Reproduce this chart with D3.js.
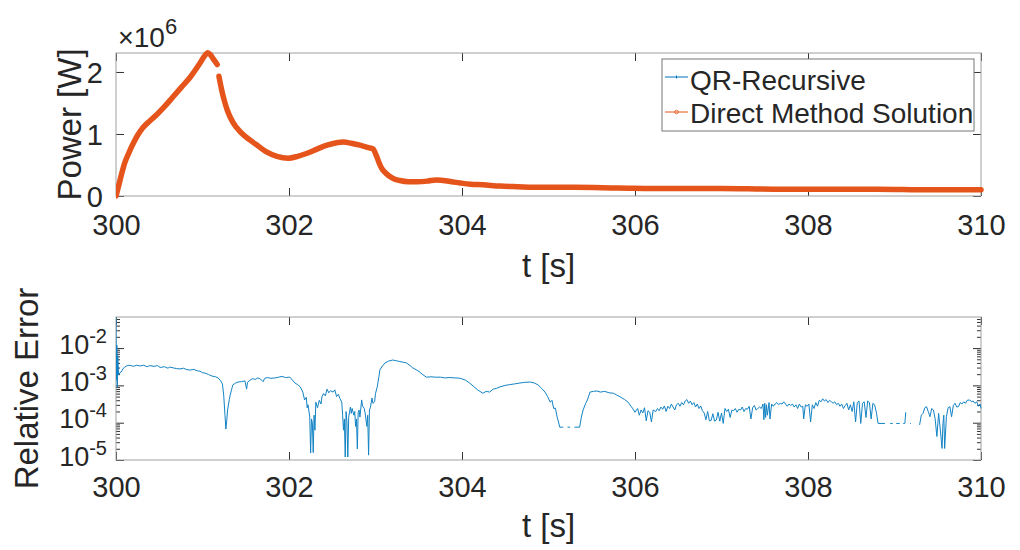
<!DOCTYPE html>
<html>
<head>
<meta charset="utf-8">
<script src="https://cdn.jsdelivr.net/npm/d3@7"></script>
<style>
body { margin: 0; background: #fff; }
svg text { font-family: "Liberation Sans", Arial, Helvetica, sans-serif; fill: #262626; }
</style>
</head>
<body>
<svg id="chart" width="1020" height="550"></svg>
<script>
// tick values and series names
var xTicks = [300, 302, 304, 306, 308, 310];
var powerTicks = [0, 1, 2];
var errTicks = [1e-5, 1e-4, 1e-3, 1e-2];
var seriesNames = ['QR-Recursive', 'Direct Method Solution'];

// power in units of 1e6 W, [t, P]; null = gap in the drawn curve
var powerMW = [
  [300.00,0.00],[300.03,0.16],[300.06,0.33],[300.10,0.53],[300.15,0.70],[300.20,0.85],
  [300.25,0.98],[300.31,1.10],[300.39,1.21],[300.47,1.31],[300.56,1.44],[300.66,1.60],
  [300.76,1.76],[300.86,1.92],[300.97,2.14],[301.03,2.27],[301.06,2.31],[301.09,2.28],
  [301.12,2.22],[301.17,2.12],null,[301.19,1.93],[301.22,1.72],[301.25,1.55],
  [301.29,1.37],[301.35,1.19],[301.44,1.03],[301.55,0.90],[301.65,0.80],[301.74,0.71],
  [301.86,0.64],[301.99,0.61],[302.10,0.64],[302.21,0.69],[302.33,0.76],[302.44,0.82],
  [302.55,0.86],[302.63,0.87],[302.72,0.85],[302.82,0.82],[302.92,0.78],[302.97,0.76],
  [303.01,0.65],[303.04,0.54],[303.07,0.45],[303.11,0.38],[303.15,0.33],[303.21,0.28],
  [303.28,0.25],[303.38,0.23],[303.48,0.23],[303.60,0.24],[303.70,0.26],[303.78,0.25],
  [303.88,0.23],[303.98,0.21],[304.10,0.19],[304.24,0.18],[304.44,0.16],[304.64,0.15],
  [304.90,0.14],[305.30,0.14],[305.80,0.13],[306.40,0.12],[307.00,0.12],[307.60,0.11],
  [308.20,0.11],[308.80,0.11],[309.40,0.10],[310.00,0.10]
];

// relative error as log10 exponent, [t, log10(err)]; null = gap
var errExp = [
  [300.00,-1.17],[300.005,-2.86],[300.01,-1.92],[300.015,-3.05],[300.02,-2.20],[300.03,-2.72],
  [300.045,-2.66],[300.06,-2.64],[300.08,-2.56],[300.10,-2.51],[300.13,-2.47],[300.16,-2.46],
  [300.20,-2.49],[300.24,-2.46],[300.28,-2.48],[300.32,-2.46],[300.36,-2.50],[300.39,-2.47],
  [300.44,-2.49],[300.48,-2.47],[300.51,-2.52],[300.56,-2.50],[300.60,-2.54],[300.62,-2.51],
  [300.66,-2.53],[300.70,-2.55],[300.74,-2.56],[300.78,-2.54],[300.82,-2.58],[300.86,-2.59],
  [300.90,-2.57],[300.94,-2.61],[300.97,-2.62],[301.00,-2.66],[301.03,-2.67],[301.07,-2.71],
  [301.11,-2.75],[301.15,-2.77],[301.18,-2.80],[301.21,-2.88],[301.23,-2.96],[301.245,-3.26],
  [301.26,-3.80],[301.27,-4.17],[301.28,-3.95],[301.29,-3.66],[301.31,-3.38],[301.32,-3.26],
  [301.34,-3.08],[301.35,-2.99],[301.38,-2.94],[301.41,-2.91],[301.45,-2.90],[301.49,-2.88],
  [301.51,-3.10],[301.52,-2.92],[301.55,-2.86],[301.58,-2.82],[301.61,-2.84],[301.64,-2.80],
  [301.67,-2.83],[301.70,-2.90],[301.72,-2.81],[301.75,-2.79],[301.79,-2.81],[301.84,-2.80],
  [301.88,-2.78],[301.92,-2.76],[301.96,-2.79],[302.01,-2.78],[302.04,-2.86],[302.07,-2.94],
  [302.10,-2.98],[302.13,-3.04],[302.16,-3.18],[302.18,-3.39],[302.20,-3.32],[302.21,-3.60],
  [302.22,-3.52],[302.24,-3.85],[302.25,-4.81],[302.26,-3.90],[302.27,-4.00],[302.28,-4.80],
  [302.29,-3.80],[302.30,-4.20],[302.31,-3.45],[302.33,-3.60],[302.35,-3.40],[302.37,-3.50],
  [302.38,-3.31],[302.40,-3.22],[302.42,-3.28],[302.44,-3.10],[302.46,-3.20],[302.48,-3.14],
  [302.51,-3.18],[302.53,-3.12],[302.55,-3.30],[302.57,-3.24],[302.59,-3.36],[302.61,-3.45],
  [302.62,-3.80],[302.63,-4.20],[302.64,-3.90],[302.65,-4.92],[302.66,-3.70],[302.67,-4.00],
  [302.68,-4.92],[302.69,-3.85],[302.71,-3.58],[302.72,-3.75],[302.73,-3.62],[302.75,-3.80],
  [302.76,-3.70],[302.77,-4.10],[302.78,-3.90],[302.79,-4.70],[302.80,-3.72],[302.81,-3.66],
  [302.82,-3.85],[302.84,-3.39],[302.85,-3.55],[302.87,-3.62],[302.88,-3.74],[302.90,-4.10],
  [302.91,-3.80],[302.92,-4.87],[302.93,-3.66],[302.94,-3.60],[302.96,-3.34],[302.97,-3.48],
  [302.99,-3.44],[303.00,-3.22],[303.02,-3.04],[303.04,-2.76],[303.05,-2.59],[303.08,-2.48],
  [303.11,-2.40],[303.15,-2.35],[303.20,-2.32],[303.24,-2.34],[303.28,-2.36],[303.32,-2.38],
  [303.36,-2.40],[303.40,-2.47],[303.43,-2.53],[303.47,-2.58],[303.51,-2.64],[303.55,-2.72],
  [303.59,-2.78],[303.64,-2.77],[303.69,-2.78],[303.75,-2.78],[303.80,-2.80],[303.86,-2.79],
  [303.92,-2.80],[303.98,-2.81],[304.04,-2.86],[304.09,-2.94],[304.14,-3.04],[304.18,-3.12],
  [304.24,-3.21],[304.28,-3.16],[304.32,-3.18],[304.36,-3.10],[304.40,-3.08],[304.44,-3.04],
  [304.50,-3.00],[304.55,-2.98],[304.61,-2.96],[304.66,-2.94],[304.72,-2.92],[304.79,-2.91],
  [304.84,-2.94],[304.88,-2.99],[304.92,-3.08],[304.96,-3.18],[304.99,-3.30],[305.02,-3.45],
  [305.04,-3.40],[305.06,-3.62],[305.08,-3.61],[305.10,-3.85],[305.11,-3.93],[305.13,-4.12],
  [305.17,-4.12],null,[305.22,-4.12],[305.25,-4.12],null,[305.30,-4.12],[305.33,-4.12],
  [305.36,-4.12],[305.38,-3.85],[305.40,-3.66],[305.43,-3.48],[305.45,-3.39],[305.48,-3.18],
  [305.52,-3.16],[305.56,-3.15],[305.60,-3.18],[305.65,-3.16],[305.70,-3.20],[305.75,-3.21],
  [305.79,-3.26],[305.83,-3.31],[305.88,-3.38],[305.92,-3.45],[305.95,-3.55],[305.97,-3.61],
  [306.00,-3.72],[306.03,-3.62],[306.05,-3.80],[306.07,-3.66],[306.09,-3.74],[306.11,-3.60],
  [306.13,-3.95],[306.15,-3.68],[306.17,-3.72],[306.19,-3.98],[306.21,-3.66],[306.24,-3.70],
  [306.26,-3.62],[306.28,-3.68],[306.30,-3.58],[306.32,-3.64],[306.34,-3.55],[306.36,-3.70],
  [306.38,-3.56],[306.40,-3.62],[306.42,-3.50],[306.44,-3.58],[306.46,-3.66],[306.48,-3.52],
  [306.50,-3.48],[306.52,-3.56],[306.54,-3.46],[306.56,-3.52],[306.58,-3.42],[306.60,-3.38],
  [306.62,-3.48],[306.64,-3.42],[306.66,-3.52],[306.68,-3.46],[306.70,-3.58],[306.72,-3.50],
  [306.74,-3.62],[306.76,-3.55],[306.78,-3.68],[306.80,-3.74],[306.82,-3.92],[306.84,-3.70],
  [306.86,-3.95],[306.88,-3.94],[306.90,-3.76],[306.92,-3.96],[306.94,-3.93],[306.96,-3.72],
  [306.98,-3.96],[307.00,-3.74],[307.02,-4.02],[307.04,-3.62],[307.06,-3.70],[307.08,-3.64],
  [307.10,-3.86],[307.12,-3.66],[307.14,-3.68],[307.16,-3.62],[307.18,-3.72],[307.20,-3.64],
  [307.22,-3.66],[307.24,-3.58],[307.26,-3.70],[307.28,-3.62],[307.30,-3.64],[307.32,-3.56],
  [307.34,-3.90],[307.36,-3.60],[307.38,-3.54],[307.40,-3.66],[307.42,-3.62],[307.44,-3.58],
  [307.46,-3.62],[307.48,-3.50],[307.49,-3.92],[307.50,-3.48],[307.51,-3.86],[307.52,-3.52],
  [307.53,-3.80],[307.55,-3.46],[307.56,-3.90],[307.58,-3.50],[307.60,-3.56],[307.62,-3.50],
  [307.64,-3.46],[307.66,-3.52],[307.68,-3.48],[307.70,-3.50],[307.72,-3.44],[307.74,-3.50],
  [307.76,-3.56],[307.78,-3.50],[307.80,-3.54],[307.82,-3.50],[307.84,-3.58],[307.86,-3.52],
  [307.88,-3.62],[307.90,-3.50],[307.92,-3.58],[307.94,-3.56],[307.95,-3.90],[307.97,-3.52],
  [307.99,-3.56],[308.01,-3.50],[308.03,-3.98],[308.05,-3.52],[308.07,-3.62],[308.09,-3.46],
  [308.11,-3.56],[308.13,-3.40],[308.15,-3.44],[308.17,-3.36],[308.19,-3.42],[308.21,-3.38],
  [308.23,-3.46],[308.25,-3.40],[308.27,-3.44],[308.29,-3.48],[308.31,-3.44],[308.33,-3.52],
  [308.35,-3.48],[308.37,-3.56],[308.39,-3.50],[308.41,-3.62],[308.43,-3.54],[308.45,-3.48],
  [308.47,-3.66],[308.49,-3.52],[308.51,-3.70],[308.53,-3.44],[308.55,-3.98],[308.57,-3.46],
  [308.59,-3.42],[308.61,-4.02],[308.63,-3.48],[308.65,-3.44],[308.67,-3.86],[308.69,-3.42],
  [308.71,-3.46],[308.73,-3.90],[308.75,-3.48],[308.77,-3.52],[308.79,-3.72],[308.81,-4.02],
  [308.89,-4.02],null,[308.95,-4.02],[308.98,-4.02],null,[309.02,-4.02],[309.06,-4.02],null,
  [309.10,-4.02],[309.12,-4.02],[309.13,-3.72],null,[309.18,-4.02],[309.19,-4.02],null,
  [309.29,-4.06],[309.31,-3.80],[309.33,-3.75],[309.35,-3.60],[309.37,-3.57],[309.39,-3.70],
  [309.41,-3.84],[309.43,-3.62],[309.45,-3.66],[309.47,-3.90],[309.49,-4.37],[309.51,-3.75],
  [309.53,-4.20],[309.55,-4.69],[309.56,-4.02],[309.57,-3.80],[309.58,-4.69],[309.60,-3.84],
  [309.62,-3.60],[309.64,-3.57],[309.66,-3.84],[309.68,-3.54],[309.70,-3.48],[309.72,-3.58],
  [309.74,-3.57],[309.76,-3.46],[309.78,-3.50],[309.80,-3.44],[309.82,-3.48],[309.84,-3.40],
  [309.87,-3.39],[309.89,-3.44],[309.91,-3.42],[309.93,-3.48],[309.95,-3.44],[309.97,-3.56],
  [309.99,-3.50],[310.00,-3.62]
];

var blue = '#0072bd', errBlue = '#1283c4', orange = '#e4541b';
var boxColor = '#a0a0a0', tickColor = '#333';
var svg = d3.select('#chart');

var panelTop = {l: 116, r: 981, t: 53, b: 196};
var panelBot = {l: 116, r: 981, t: 317, b: 460};

var xTop = d3.scaleLinear().domain([300, 310]).range([panelTop.l, panelTop.r]);
var yTop = d3.scaleLinear().domain([0, 2.306]).range([panelTop.b, panelTop.t]);
var xBot = d3.scaleLinear().domain([300, 310]).range([panelBot.l, panelBot.r]);
var yBot = d3.scaleLog().domain([1e-5, 0.068]).range([panelBot.b, panelBot.t]);

function clip(id, a) {
  svg.append('clipPath').attr('id', id).append('rect')
    .attr('x', a.l).attr('y', a.t - 4).attr('width', a.r - a.l + 3).attr('height', a.b - a.t + 8);
}
clip('clipTop', panelTop);
clip('clipBot', panelBot);

function styleAxis(g) {
  g.select('.domain').remove();
  g.selectAll('.tick line').attr('stroke', tickColor);
  g.selectAll('.tick text').attr('fill', '#262626');
}

// ---------- top panel ----------
var P = panelTop;
var gT = svg.append('g');
gT.append('g').attr('transform', 'translate(0,' + P.b + ')')
  .call(d3.axisBottom(xTop).tickValues(xTicks).tickSize(-8).tickPadding(18))
  .call(styleAxis).selectAll('text').style('font-size', '29px');
gT.append('g').attr('transform', 'translate(0,' + P.t + ')')
  .call(d3.axisTop(xTop).tickValues(xTicks).tickSize(-8).tickFormat(''))
  .call(styleAxis);
gT.append('g').attr('transform', 'translate(' + P.l + ',0)')
  .call(d3.axisLeft(yTop).tickValues(powerTicks).tickSize(-8).tickPadding(13)
    .tickFormat(d3.format('d')))
  .call(styleAxis).selectAll('text').style('font-size', '29px').attr('dy', '0.36em');
gT.append('g').attr('transform', 'translate(' + P.r + ',0)')
  .call(d3.axisRight(yTop).tickValues(powerTicks).tickSize(-8).tickFormat(''))
  .call(styleAxis);
gT.append('rect').attr('x', P.l).attr('y', P.t)
  .attr('width', P.r - P.l).attr('height', P.b - P.t)
  .attr('fill', 'none').attr('stroke', boxColor).attr('stroke-width', 1);

var powerLine = d3.line().defined(function(d) { return d; })
  .x(function(d) { return xTop(d[0]); })
  .y(function(d) { return yTop(d[1]); })
  .curve(d3.curveMonotoneX);
gT.append('path').datum(powerMW).attr('clip-path', 'url(#clipTop)')
  .attr('d', powerLine).attr('fill', 'none').attr('stroke', blue).attr('stroke-width', 1);
gT.append('path').datum(powerMW).attr('clip-path', 'url(#clipTop)')
  .attr('d', powerLine).attr('fill', 'none').attr('stroke', orange)
  .attr('stroke-width', 5.5).attr('stroke-linecap', 'round').attr('stroke-linejoin', 'round');

// exponent label
var ex = gT.append('text').attr('x', 118).attr('y', 47);
ex.append('tspan').text('\u00d7').style('font-size', '27px');
ex.append('tspan').text('10').style('font-size', '28px');
ex.append('tspan').text('6').attr('dy', -13).style('font-size', '22px');

gT.append('text').attr('x', (P.l + P.r) / 2).attr('y', 277)
  .attr('text-anchor', 'middle').style('font-size', '33px').text('t [s]');
gT.append('text').attr('transform', 'translate(81,' + (P.t + P.b) / 2 + ') rotate(-90)')
  .attr('text-anchor', 'middle').style('font-size', '33px').text('Power [W]');

// legend
var lg = gT.append('g');
lg.append('rect').attr('x', 662).attr('y', 59).attr('width', 312).attr('height', 72)
  .attr('fill', '#fff').attr('stroke', '#777').attr('stroke-width', 1);
[blue, orange].forEach(function(c, i) {
  var yy = 77 + i * 35;
  lg.append('line').attr('x1', 665).attr('x2', 688).attr('y1', yy).attr('y2', yy)
    .attr('stroke', c).attr('stroke-width', 1);
  if (i === 0) {
    lg.append('line').attr('x1', 676.5).attr('x2', 676.5).attr('y1', yy - 1.5).attr('y2', yy + 1.5)
      .attr('stroke', c).attr('stroke-width', 1);
  } else {
    lg.append('circle').attr('cx', 676.5).attr('cy', yy).attr('r', 1.8)
      .attr('fill', 'none').attr('stroke', c).attr('stroke-width', 0.8);
  }
  lg.append('text').attr('x', 690).attr('y', yy + 13 - (i === 0 ? 0 : 2))
    .style('font-size', '28px').text(seriesNames[i]);
});

// ---------- bottom panel ----------
var B = panelBot;
var gB = svg.append('g');
var minorTicks = yBot.ticks().filter(function(v) {
  return Math.abs(Math.log10(v) - Math.round(Math.log10(v))) > 1e-6;
});
gB.append('g').attr('transform', 'translate(0,' + B.b + ')')
  .call(d3.axisBottom(xBot).tickValues(xTicks).tickSize(-8).tickPadding(16))
  .call(styleAxis).selectAll('text').style('font-size', '29px');
gB.append('g').attr('transform', 'translate(0,' + B.t + ')')
  .call(d3.axisTop(xBot).tickValues(xTicks).tickSize(-8).tickFormat(''))
  .call(styleAxis);
[[B.l, d3.axisLeft], [B.r, d3.axisRight]].forEach(function(s) {
  gB.append('g').attr('transform', 'translate(' + s[0] + ',0)')
    .call(s[1](yBot).tickValues(minorTicks).tickSize(-4).tickFormat(''))
    .call(styleAxis);
});
gB.append('g').attr('transform', 'translate(' + B.r + ',0)')
  .call(d3.axisRight(yBot).tickValues(errTicks).tickSize(-8).tickFormat(''))
  .call(styleAxis);
var yl = gB.append('g').attr('transform', 'translate(' + B.l + ',0)')
  .call(d3.axisLeft(yBot).tickValues(errTicks).tickSize(-8).tickPadding(9))
  .call(styleAxis);
yl.selectAll('.tick text').each(function(d) {
  var t = d3.select(this).text(null).attr('dy', '0.5em');
  t.append('tspan').text('10').style('font-size', '27px');
  t.append('tspan').text(String(Math.round(Math.log10(d))))
    .attr('dy', -11).style('font-size', '20px');
});
gB.append('rect').attr('x', B.l).attr('y', B.t)
  .attr('width', B.r - B.l).attr('height', B.b - B.t)
  .attr('fill', 'none').attr('stroke', boxColor).attr('stroke-width', 1);

var errLine = d3.line().defined(function(d) { return d; })
  .x(function(d) { return xBot(d[0]); })
  .y(function(d) { return yBot(Math.pow(10, d[1])); });
gB.append('path').datum(errExp).attr('clip-path', 'url(#clipBot)')
  .attr('d', errLine).attr('fill', 'none').attr('stroke', errBlue).attr('stroke-width', 1);

gB.append('text').attr('x', (B.l + B.r) / 2).attr('y', 537)
  .attr('text-anchor', 'middle').style('font-size', '33px').text('t [s]');
gB.append('text').attr('transform', 'translate(38,' + (B.t + B.b) / 2 + ') rotate(-90)')
  .attr('text-anchor', 'middle').style('font-size', '33px').text('Relative Error');
</script>
</body>
</html>
